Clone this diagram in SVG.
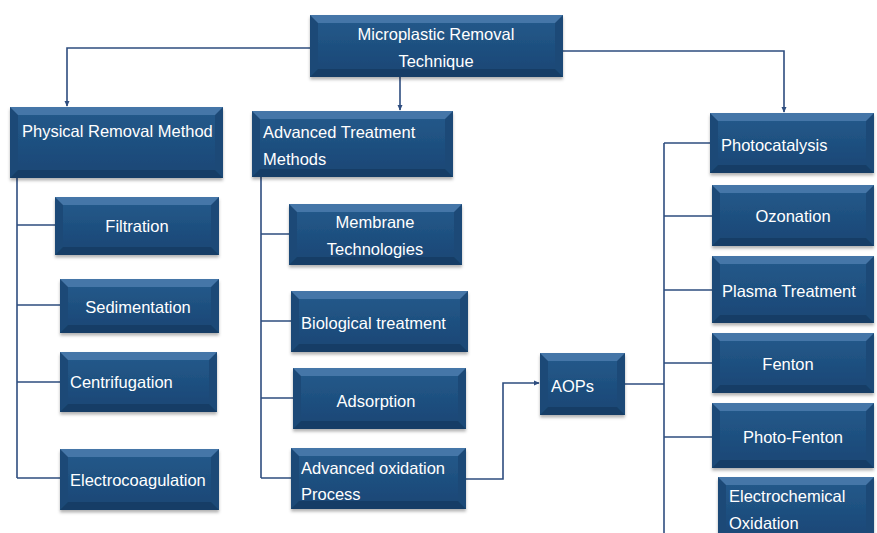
<svg xmlns="http://www.w3.org/2000/svg" width="877" height="533" viewBox="0 0 877 533">
  <defs>
    <linearGradient id="face" x1="0" y1="0" x2="0" y2="1">
      <stop offset="0" stop-color="#235889"/>
      <stop offset="1" stop-color="#1a4877"/>
    </linearGradient>
    <filter id="shadow" x="-5%" y="-5%" width="110%" height="125%">
      <feDropShadow dx="0" dy="2.5" stdDeviation="1.5" flood-color="#000" flood-opacity="0.3"/>
    </filter>
    <marker id="arrow" viewBox="0 0 8 8" refX="7" refY="4" markerWidth="6" markerHeight="6" orient="auto" markerUnits="userSpaceOnUse">
      <path d="M0,0.5 L8,4 L0,7.5 Z" fill="#2e4d7f"/>
    </marker>
    <style>
      .base { fill: #1c4a77; }
      .hi { fill: #4576a8; }
      .lo { fill: #163e66; }
      .face { fill: url(#face); }
      .box { filter: url(#shadow); }
      .lbl { font-family: "Liberation Sans", Arial, sans-serif; font-size: 16.5px; fill: #ffffff; }
      .mid { text-anchor: middle; }
      .conn path { fill: none; stroke: #2e4d7f; stroke-width: 1.6; }
    </style>
  </defs>

  <rect width="877" height="533" fill="#ffffff"/>

  <!-- connectors -->
  <g id="connectors" class="conn">
    <path d="M310,48H67V106" marker-end="url(#arrow)"/>
    <path d="M400,77V110" marker-end="url(#arrow)"/>
    <path d="M563,51H784V112" marker-end="url(#arrow)"/>
    <path d="M17,178V478"/>
    <path d="M17,225H55M17,305H60M17,382H60M17,478H60"/>
    <path d="M261,177V478"/>
    <path d="M261,234H289M261,321H291M261,398H293M261,478H291"/>
    <path d="M466,479H503V383H539" marker-end="url(#arrow)"/>
    <path d="M625,384H664"/>
    <path d="M664,143V533"/>
    <path d="M664,143H710M664,216H712M664,290H712M664,363H712M664,437H712"/>
  </g>

  <!-- root -->
  <g id="microplastic-removal">
    <g class="box">
      <rect class="base" x="310" y="15" width="253" height="62"/>
      <path class="hi" d="M310,15H563L555,23H318Z"/>
      <path class="lo" d="M310,77H563L555,69H318Z"/>
      <rect class="face" x="318" y="23" width="237" height="46"/>
    </g>
    <text class="lbl mid" x="436" y="40">Microplastic Removal</text>
    <text class="lbl mid" x="436" y="67">Technique</text>
  </g>

  <!-- physical branch -->
  <g id="physical-removal">
    <g class="box">
      <rect class="base" x="10" y="107" width="213" height="71"/>
      <path class="hi" d="M10,107H223L215,115H18Z"/>
      <path class="lo" d="M10,178H223L215,170H18Z"/>
      <rect class="face" x="18" y="115" width="197" height="55"/>
    </g>
    <text class="lbl" x="22" y="137">Physical Removal Method</text>
  </g>

  <g id="filtration">
    <g class="box">
      <rect class="base" x="55" y="197" width="164" height="58"/>
      <path class="hi" d="M55,197H219L211,205H63Z"/>
      <path class="lo" d="M55,255H219L211,247H63Z"/>
      <rect class="face" x="63" y="205" width="148" height="42"/>
    </g>
    <text class="lbl mid" x="137" y="232">Filtration</text>
  </g>

  <g id="sedimentation">
    <g class="box">
      <rect class="base" x="60" y="279" width="159" height="54"/>
      <path class="hi" d="M60,279H219L211,287H68Z"/>
      <path class="lo" d="M60,333H219L211,325H68Z"/>
      <rect class="face" x="68" y="287" width="143" height="38"/>
    </g>
    <text class="lbl mid" x="138" y="313">Sedimentation</text>
  </g>

  <g id="centrifugation">
    <g class="box">
      <rect class="base" x="60" y="352" width="157" height="60"/>
      <path class="hi" d="M60,352H217L209,360H68Z"/>
      <path class="lo" d="M60,412H217L209,404H68Z"/>
      <rect class="face" x="68" y="360" width="141" height="44"/>
    </g>
    <text class="lbl" x="70" y="388">Centrifugation</text>
  </g>

  <g id="electrocoagulation">
    <g class="box">
      <rect class="base" x="60" y="449" width="159" height="61"/>
      <path class="hi" d="M60,449H219L211,457H68Z"/>
      <path class="lo" d="M60,510H219L211,502H68Z"/>
      <rect class="face" x="68" y="457" width="143" height="45"/>
    </g>
    <text class="lbl" x="70" y="486">Electrocoagulation</text>
  </g>

  <!-- advanced treatment branch -->
  <g id="advanced-treatment">
    <g class="box">
      <rect class="base" x="252" y="111" width="201" height="66"/>
      <path class="hi" d="M252,111H453L445,119H260Z"/>
      <path class="lo" d="M252,177H453L445,169H260Z"/>
      <rect class="face" x="260" y="119" width="185" height="50"/>
    </g>
    <text class="lbl" x="263" y="138">Advanced Treatment</text>
    <text class="lbl" x="263" y="165">Methods</text>
  </g>

  <g id="membrane">
    <g class="box">
      <rect class="base" x="289" y="204" width="173" height="61"/>
      <path class="hi" d="M289,204H462L454,212H297Z"/>
      <path class="lo" d="M289,265H462L454,257H297Z"/>
      <rect class="face" x="297" y="212" width="157" height="45"/>
    </g>
    <text class="lbl mid" x="375" y="228">Membrane</text>
    <text class="lbl mid" x="375" y="255">Technologies</text>
  </g>

  <g id="biological">
    <g class="box">
      <rect class="base" x="291" y="291" width="177" height="61"/>
      <path class="hi" d="M291,291H468L460,299H299Z"/>
      <path class="lo" d="M291,352H468L460,344H299Z"/>
      <rect class="face" x="299" y="299" width="161" height="45"/>
    </g>
    <text class="lbl" x="301" y="329">Biological treatment</text>
  </g>

  <g id="adsorption">
    <g class="box">
      <rect class="base" x="293" y="368" width="173" height="61"/>
      <path class="hi" d="M293,368H466L458,376H301Z"/>
      <path class="lo" d="M293,429H466L458,421H301Z"/>
      <rect class="face" x="301" y="376" width="157" height="45"/>
    </g>
    <text class="lbl mid" x="376" y="407">Adsorption</text>
  </g>

  <g id="advanced-oxidation">
    <g class="box">
      <rect class="base" x="291" y="448" width="175" height="61"/>
      <path class="hi" d="M291,448H466L458,456H299Z"/>
      <path class="lo" d="M291,509H466L458,501H299Z"/>
      <rect class="face" x="299" y="456" width="159" height="45"/>
    </g>
    <text class="lbl" x="301" y="474">Advanced oxidation</text>
    <text class="lbl" x="301" y="500">Process</text>
  </g>

  <g id="aops">
    <g class="box">
      <rect class="base" x="540" y="353" width="85" height="62"/>
      <path class="hi" d="M540,353H625L617,361H548Z"/>
      <path class="lo" d="M540,415H625L617,407H548Z"/>
      <rect class="face" x="548" y="361" width="69" height="46"/>
    </g>
    <text class="lbl" x="551" y="392">AOPs</text>
  </g>

  <!-- AOP family -->
  <g id="photocatalysis">
    <g class="box">
      <rect class="base" x="710" y="113" width="164" height="60"/>
      <path class="hi" d="M710,113H874L866,121H718Z"/>
      <path class="lo" d="M710,173H874L866,165H718Z"/>
      <rect class="face" x="718" y="121" width="148" height="44"/>
    </g>
    <text class="lbl" x="721" y="151">Photocatalysis</text>
  </g>

  <g id="ozonation">
    <g class="box">
      <rect class="base" x="712" y="185" width="162" height="61"/>
      <path class="hi" d="M712,185H874L866,193H720Z"/>
      <path class="lo" d="M712,246H874L866,238H720Z"/>
      <rect class="face" x="720" y="193" width="146" height="45"/>
    </g>
    <text class="lbl mid" x="793" y="222">Ozonation</text>
  </g>

  <g id="plasma">
    <g class="box">
      <rect class="base" x="712" y="256" width="162" height="67"/>
      <path class="hi" d="M712,256H874L866,264H720Z"/>
      <path class="lo" d="M712,323H874L866,315H720Z"/>
      <rect class="face" x="720" y="264" width="146" height="51"/>
    </g>
    <text class="lbl" x="722" y="297">Plasma Treatment</text>
  </g>

  <g id="fenton">
    <g class="box">
      <rect class="base" x="712" y="333" width="162" height="60"/>
      <path class="hi" d="M712,333H874L866,341H720Z"/>
      <path class="lo" d="M712,393H874L866,385H720Z"/>
      <rect class="face" x="720" y="341" width="146" height="44"/>
    </g>
    <text class="lbl mid" x="788" y="370">Fenton</text>
  </g>

  <g id="photo-fenton">
    <g class="box">
      <rect class="base" x="712" y="403" width="162" height="65"/>
      <path class="hi" d="M712,403H874L866,411H720Z"/>
      <path class="lo" d="M712,468H874L866,460H720Z"/>
      <rect class="face" x="720" y="411" width="146" height="49"/>
    </g>
    <text class="lbl mid" x="793" y="443">Photo-Fenton</text>
  </g>

  <g id="electrochemical">
    <g class="box">
      <rect class="base" x="718" y="477" width="156" height="66"/>
      <path class="hi" d="M718,477H874L866,485H726Z"/>
      <rect class="face" x="726" y="485" width="140" height="50"/>
    </g>
    <text class="lbl" x="729" y="502">Electrochemical</text>
    <text class="lbl" x="729" y="529">Oxidation</text>
  </g>
</svg>
